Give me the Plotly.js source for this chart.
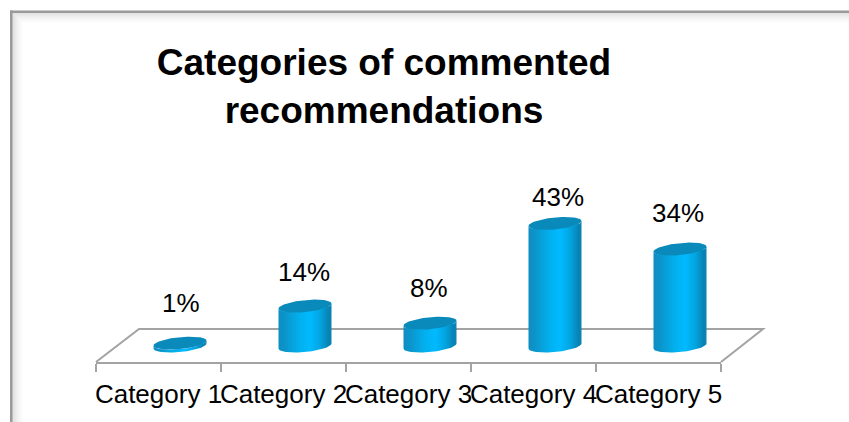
<!DOCTYPE html>
<html>
<head>
<meta charset="utf-8">
<script src="https://cdn.plot.ly/plotly-3.0.1.min.js"></script>
<style>html,body{margin:0;padding:0;background:#fff;overflow:hidden}#chart{width:849px;height:422px}</style>
</head>
<body>
<div id="chart"></div>
<script>
var categories = ['Category 1', 'Category 2', 'Category 3', 'Category 4', 'Category 5'];
var values = [1, 14, 8, 43, 34];
var valueLabels = ['1%', '14%', '8%', '43%', '34%'];

var titleText = 'Categories of commented<br>recommendations';
var fontFamily = '"Liberation Sans", Arial, sans-serif';
var W = 849, H = 422;
var plotL = 96, plotR = 721, plotT = 130, plotB = 362;
var pxPerUnitX = (plotR - plotL) / 5;
var pxPerUnitY = 2.85;
var zeroPx = 346;
var yMin = -(plotB - zeroPx) / pxPerUnitY;
var yMax = yMin + (plotB - plotT) / pxPerUnitY;
var depth = 21.5 / pxPerUnitX;
var rx = 26.5, ry = 6, tilt = 0.095;

// nudges of each value label from its bar top, in pixels
var labelDx = [1, -1, -1.5, 3, -2];
var labelDy = [40, 34, 35, 26, 36];

function ellipsePoint(cx, cy, t) {
  var u = rx * Math.cos(t);
  var v = ry * Math.sin(t) + tilt * u;
  return [cx + u / pxPerUnitX, cy + v / pxPerUnitY];
}

var traces = [{
  type: 'bar', x: categories, y: values, base: 0, width: 0.36, offset: depth - 0.18,
  marker: {color: '#00b4f5', line: {width: 0}}, hoverinfo: 'skip', showlegend: false
}];

var bodyScale = [[0, '#0e8dc2'], [0.12, '#0c94ca'], [0.4, '#02b0ee'], [0.6, '#00baff'], [0.78, '#03a6e2'], [0.95, '#0882b2'], [1, '#0a84b2']];
var steps = 36;
values.forEach(function (val, i) {
  var cx = i + depth, bx = [], by = [], tx = [], ty = [], k, p;
  // lower arc of the base, left to right
  for (k = 0; k <= steps; k++) {
    p = ellipsePoint(cx, 0, Math.PI + Math.PI * k / steps);
    bx.push(p[0]); by.push(p[1]);
  }
  // lower arc of the top, right to left
  for (k = 0; k <= steps; k++) {
    p = ellipsePoint(cx, val, -Math.PI * k / steps);
    bx.push(p[0]); by.push(p[1]);
  }
  bx.push(bx[0]); by.push(by[0]);
  traces.push({
    type: 'scatter', mode: 'lines', x: bx, y: by, xaxis: 'x2', yaxis: 'y', fill: 'toself',
    line: {width: 0, color: 'rgba(0,0,0,0)'},
    fillgradient: {type: 'horizontal', colorscale: bodyScale},
    hoverinfo: 'skip', showlegend: false
  });
  for (k = 0; k <= steps * 2; k++) {
    p = ellipsePoint(cx, val, Math.PI * k / steps);
    tx.push(p[0]); ty.push(p[1]);
  }
  traces.push({
    type: 'scatter', mode: 'lines', x: tx, y: ty, xaxis: 'x2', yaxis: 'y', fill: 'toself',
    line: {width: 0, color: 'rgba(0,0,0,0)'}, fillcolor: '#0a8abb',
    hoverinfo: 'skip', showlegend: false
  });
});

function paperX(px) { return (px - plotL) / (plotR - plotL); }
function paperY(py) { return (plotB - py) / (plotB - plotT); }

var shapes = [];
// picture frame with its soft inner glow: widest and palest first
var glow = ['#e2e2e2', '#e6e6e6', '#eaeaea', '#eeeeee', '#f1f1f1', '#f4f4f4', '#f6f6f6', '#f9f9f9', '#fbfbfb', '#fdfdfd'];
for (var g = glow.length - 1; g >= 0; g--) {
  shapes.push({type: 'rect', xref: 'paper', yref: 'paper', layer: 'below', line: {width: 0}, fillcolor: glow[g],
    x0: paperX(12), x1: paperX(W), y0: paperY(12), y1: paperY(14 + g)});
  shapes.push({type: 'rect', xref: 'paper', yref: 'paper', layer: 'below', line: {width: 0}, fillcolor: glow[g],
    x0: paperX(12), x1: paperX(14 + g), y0: paperY(12), y1: paperY(H)});
}
shapes.push({type: 'rect', xref: 'paper', yref: 'paper', layer: 'below', line: {width: 0}, fillcolor: '#9a9a9a',
  x0: paperX(10), x1: paperX(W), y0: paperY(10.5), y1: paperY(13)});
shapes.push({type: 'rect', xref: 'paper', yref: 'paper', layer: 'below', line: {width: 0}, fillcolor: '#9a9a9a',
  x0: paperX(10), x1: paperX(12.5), y0: paperY(10.5), y1: paperY(H)});
// chart floor
shapes.push({type: 'path', xref: 'paper', yref: 'paper', layer: 'below', line: {color: '#a3a3a3', width: 2},
  path: 'M' + paperX(96) + ',' + paperY(362) + ' L' + paperX(139) + ',' + paperY(329) +
        ' L' + paperX(763) + ',' + paperY(329) + ' L' + paperX(721) + ',' + paperY(362)});

var annotations = values.map(function (val, i) {
  return {xref: 'x2', yref: 'y', x: i + depth, y: val, text: valueLabels[i], showarrow: false,
    xanchor: 'center', yanchor: 'middle', xshift: labelDx[i], yshift: labelDy[i],
    font: {family: fontFamily, size: 26, color: '#000'}};
});

var layout = {
  width: W, height: H, paper_bgcolor: '#fff', plot_bgcolor: 'rgba(0,0,0,0)',
  margin: {l: plotL, r: W - plotR, t: plotT, b: H - plotB, pad: 0},
  showlegend: false, hovermode: false, bargap: 0,
  title: {text: '<b>' + titleText.replace('<br>', '</b><br><b>') + '</b>', xref: 'paper', x: (384 - plotL) / (plotR - plotL), xanchor: 'center',
    yref: 'container', y: 0.822, yanchor: 'bottom',
    font: {family: fontFamily, size: 37, color: '#000'}},
  xaxis: {type: 'category', categoryorder: 'array', categoryarray: categories, range: [-0.5, 4.5],
    tickson: 'boundaries', ticks: 'outside', ticklen: 8, tickwidth: 2, tickcolor: '#a3a3a3',
    showline: true, linecolor: '#a3a3a3', linewidth: 2, showgrid: false, zeroline: false,
    ticklabelstandoff: 8,
    tickangle: 0, tickfont: {family: fontFamily, size: 26, color: '#000'}, automargin: false},
  xaxis2: {type: 'linear', overlaying: 'x', anchor: 'y', range: [-0.5, 4.5], visible: false, fixedrange: true},
  yaxis: {range: [yMin, yMax], visible: false, fixedrange: true},
  shapes: shapes, annotations: annotations
};
Plotly.newPlot('chart', traces, layout, {displayModeBar: false, responsive: false, staticPlot: true});
</script>
</body>
</html>
